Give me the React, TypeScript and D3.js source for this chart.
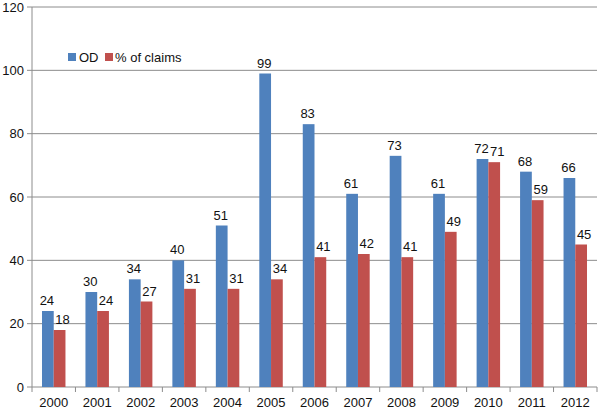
import React from "react";
import * as d3 from "d3";

const years = ["2000","2001","2002","2003","2004","2005","2006","2007","2008","2009","2010","2011","2012"];
const odValues = [24,30,34,40,51,99,83,61,73,61,72,68,66];
const claimValues = [18,24,27,31,31,34,41,42,41,49,71,59,45];
const yTicks = [0,20,40,60,80,100,120];
const seriesNames = ["OD", "% of claims"];
const colors = ["#4F81BD", "#C0504D"];

export default function App() {
  const W = 600, H = 411;
  const left = 32, right = 597, top = 7, bottom = 387;
  const x = d3.scaleBand().domain(years).range([left, right]).paddingInner(0.46).paddingOuter(0.23);
  const y = d3.scaleLinear().domain([0, 120]).range([bottom, top]);
  const bw = x.bandwidth() / 2;
  const step = x.step();
  const font = "Liberation Sans, Arial, sans-serif";
  const series = [odValues, claimValues];
  return (
    <svg width={W} height={H} style={{ position: "absolute", left: 0, top: 0 }} fontFamily={font}>
      <rect width={W} height={H} fill="#fff" />
      {yTicks.map(t => (
        <g key={t}>
          {t > 0 && <line x1={left} x2={right} y1={y(t)} y2={y(t)} stroke="#8c8c8c" strokeWidth={1} />}
          <line x1={left - 5} x2={left} y1={y(t)} y2={y(t)} stroke="#8c8c8c" />
          <text x={left - 8} y={y(t)} dy="0.35em" textAnchor="end" fontSize={13} fill="#111">{t}</text>
        </g>
      ))}
      <line x1={left} x2={left} y1={top} y2={bottom} stroke="#8c8c8c" />
      <line x1={left} x2={right} y1={bottom} y2={bottom} stroke="#8c8c8c" />
      {years.map((yr, i) => (
        <line key={"t" + yr} x1={left + i * step} x2={left + i * step} y1={bottom} y2={bottom + 5} stroke="#8c8c8c" />
      ))}
      <line x1={right} x2={right} y1={bottom} y2={bottom + 5} stroke="#8c8c8c" />
      {years.map(yr => (
        <text key={"l" + yr} x={(x(yr) as number) + bw} y={bottom + 20} textAnchor="middle" fontSize={13} fill="#111">{yr}</text>
      ))}
      {series.map((vals, si) => (
        <g key={si}>
          {vals.map((v, i) => {
            const bx = (x(years[i]) as number) + si * bw;
            return (
              <g key={i}>
                <rect x={bx} y={y(v)} width={bw} height={bottom - y(v)} fill={colors[si]} />
                <text x={bx + bw / 2 + (si === 0 ? -1 : 3)} y={y(v) - 6} textAnchor="middle" fontSize={13} fill="#111">{v}</text>
              </g>
            );
          })}
        </g>
      ))}
      <g>
        <rect x={68} y={53} width={8} height={8} fill={colors[0]} />
        <text x={79} y={57} dy="0.35em" fontSize={13} fill="#111">{seriesNames[0]}</text>
        <rect x={105} y={53} width={8} height={8} fill={colors[1]} />
        <text x={115} y={57} dy="0.35em" fontSize={13} fill="#111">{seriesNames[1]}</text>
      </g>
    </svg>
  );
}
